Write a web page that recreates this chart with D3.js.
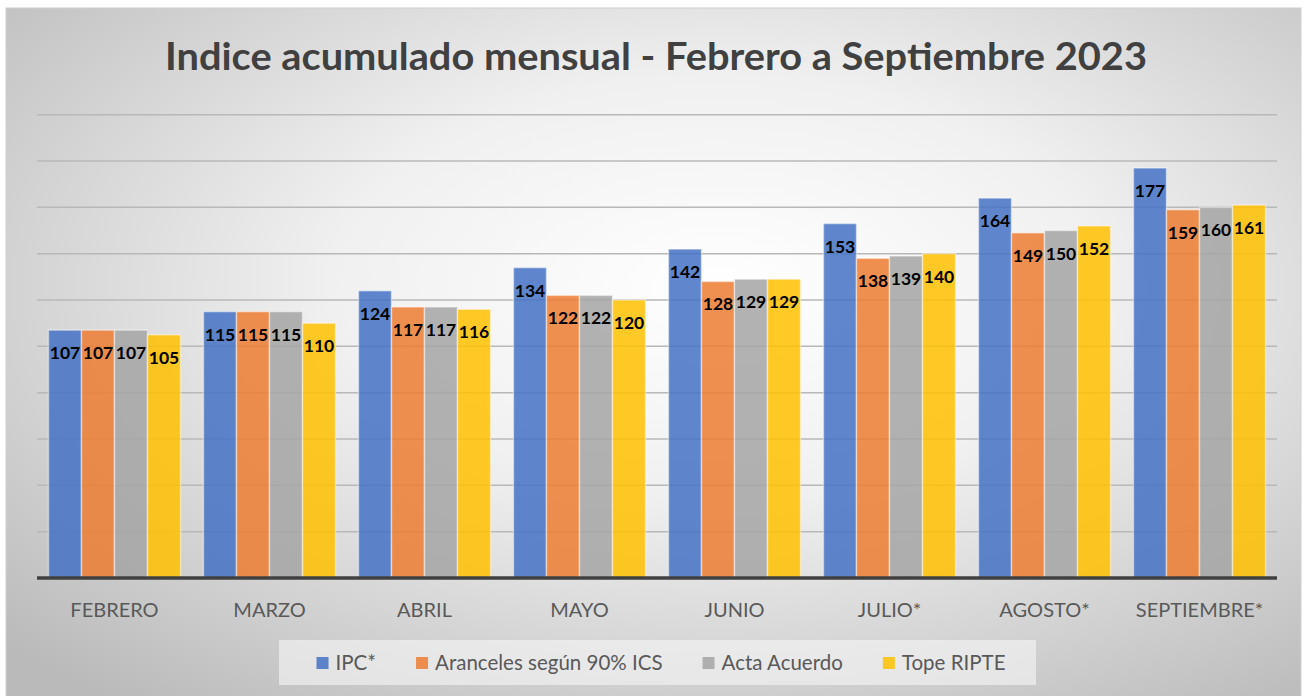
<!DOCTYPE html>
<html>
<head>
<meta charset="utf-8">
<script src="https://cdn.jsdelivr.net/npm/d3@7"></script>
<style>
  body { margin: 0; background: #fff; }
  svg { display: block; }
</style>
</head>
<body>
<svg id="chart"></svg>
<script>
// Data
const months = ["FEBRERO", "MARZO", "ABRIL", "MAYO", "JUNIO", "JULIO*", "AGOSTO*", "SEPTIEMBRE*"];
const seriesNames = ["IPC*", "Aranceles según 90% ICS", "Acta Acuerdo", "Tope RIPTE"];
const ipc       = [107, 115, 124, 134, 142, 153, 164, 177];
const aranceles = [107, 115, 117, 122, 128, 138, 149, 159];
const acta      = [107, 115, 117, 122, 129, 139, 150, 160];
const ripte     = [105, 110, 116, 120, 129, 140, 152, 161];
const yTicks = [0, 20, 40, 60, 80, 100, 120, 140, 160, 180, 200];
const colors = ["#4472C4", "#ED7D31", "#A5A5A5", "#FFC000"];

const W = 1307, H = 696;
const svg = d3.select("#chart").attr("width", W).attr("height", H);

// Background gradient (white in the middle, grey towards the edges)
const defs = svg.append("defs");
const grad = defs.append("radialGradient")
    .attr("id", "bg")
    .attr("cx", "0.55").attr("cy", "0.4").attr("r", "0.75")
    .attr("gradientUnits", "objectBoundingBox");
grad.append("stop").attr("offset", "0").attr("stop-color", "#ffffff");
grad.append("stop").attr("offset", "0.4").attr("stop-color", "#f0f0f0");
grad.append("stop").attr("offset", "1").attr("stop-color", "#bababa");

svg.append("rect")
    .attr("x", 6).attr("y", 8)
    .attr("width", 1295).attr("height", 700)
    .attr("fill", "url(#bg)")
    .attr("stroke", "#d0d0d0");

// Title
svg.append("text")
    .attr("x", 656).attr("y", 70)
    .attr("text-anchor", "middle")
    .attr("textLength", 982)
    .attr("lengthAdjust", "spacingAndGlyphs")
    .style("font-family", "Lato, 'Open Sans', sans-serif")
    .style("font-weight", "bold")
    .style("font-size", "38px")
    .style("fill", "#404040")
    .text("Indice acumulado mensual - Febrero a Septiembre 2023");

// Scales
const margin = {left: 37, right: 30, top: 114.7, bottom: 118};
const x0 = d3.scaleBand().domain(months)
    .range([margin.left, W - margin.right])
    .paddingInner(0.148).paddingOuter(0.074);
const x1 = d3.scaleBand().domain(seriesNames).range([0, x0.bandwidth()]);
const y = d3.scaleLinear().domain([0, 200]).range([H - margin.bottom, margin.top]);

// Gridlines
svg.append("g")
  .selectAll("line")
  .data(yTicks.slice(1))
  .enter().append("line")
    .attr("x1", margin.left).attr("x2", W - margin.right)
    .attr("y1", d => y(d)).attr("y2", d => y(d))
    .attr("stroke", "#b8b8b8")
    .attr("stroke-width", 1.5);

// Bars
const table = months.map((m, i) => ({
  month: m,
  values: [ipc[i], aranceles[i], acta[i], ripte[i]].map((v, j) => ({series: seriesNames[j], idx: j, value: v}))
}));

const groups = svg.append("g")
  .selectAll("g")
  .data(table)
  .enter().append("g")
    .attr("transform", d => `translate(${x0(d.month)},0)`);

groups.selectAll("rect")
  .data(d => d.values)
  .enter().append("rect")
    .attr("x", d => x1(d.series))
    .attr("y", d => y(d.value))
    .attr("width", x1.bandwidth())
    .attr("height", d => y(0) - y(d.value))
    .attr("fill", d => colors[d.idx])
    .attr("fill-opacity", 0.85)
    .attr("stroke", "#ffffff")
    .attr("stroke-opacity", 0.45)
    .attr("stroke-width", 1.5);

groups.selectAll("text")
  .data(d => d.values)
  .enter().append("text")
    .attr("x", d => x1(d.series) + x1.bandwidth() / 2)
    .attr("y", d => y(d.value) + 29)
    .attr("text-anchor", "middle")
    .style("font-family", "Lato, sans-serif")
    .style("font-weight", "bold")
    .style("font-size", "17.5px")
    .style("fill", "#000")
    .text(d => d.value);

// X axis
const xAxis = svg.append("g")
    .attr("transform", `translate(0,${y(0)})`)
    .call(d3.axisBottom(x0).tickSize(0).tickPadding(0));
xAxis.select(".domain")
    .attr("d", `M${margin.left},0H${W - margin.right}`)
    .attr("stroke", "#404040")
    .attr("stroke-width", 3.5);
xAxis.selectAll("text")
    .attr("y", 39)
    .attr("dy", null)
    .style("font-family", "Lato, sans-serif")
    .style("font-size", "20px")
    .style("fill", "#595959");

// Legend
const legend = svg.append("g");
legend.append("rect")
    .attr("x", 279).attr("y", 640)
    .attr("width", 757).attr("height", 45)
    .attr("fill", "#f7f7f7")
    .attr("fill-opacity", 0.6);

const gap = 40;
let lx = 0;
const items = legend.append("g");
seriesNames.forEach((name, i) => {
  const it = items.append("g").attr("transform", `translate(${lx},0)`);
  it.append("rect")
    .attr("x", 0).attr("y", 657)
    .attr("width", 12).attr("height", 12)
    .attr("fill", colors[i])
    .attr("fill-opacity", 0.85);
  const t = it.append("text")
    .attr("x", 19).attr("y", 670)
    .style("font-family", "Lato, sans-serif")
    .style("font-size", "20.5px")
    .style("fill", "#595959")
    .text(name);
  lx += 19 + t.node().getComputedTextLength() + gap;
});
const totalW = lx - gap;
items.attr("transform", `translate(${661 - totalW / 2},0)`);
</script>
</body>
</html>
